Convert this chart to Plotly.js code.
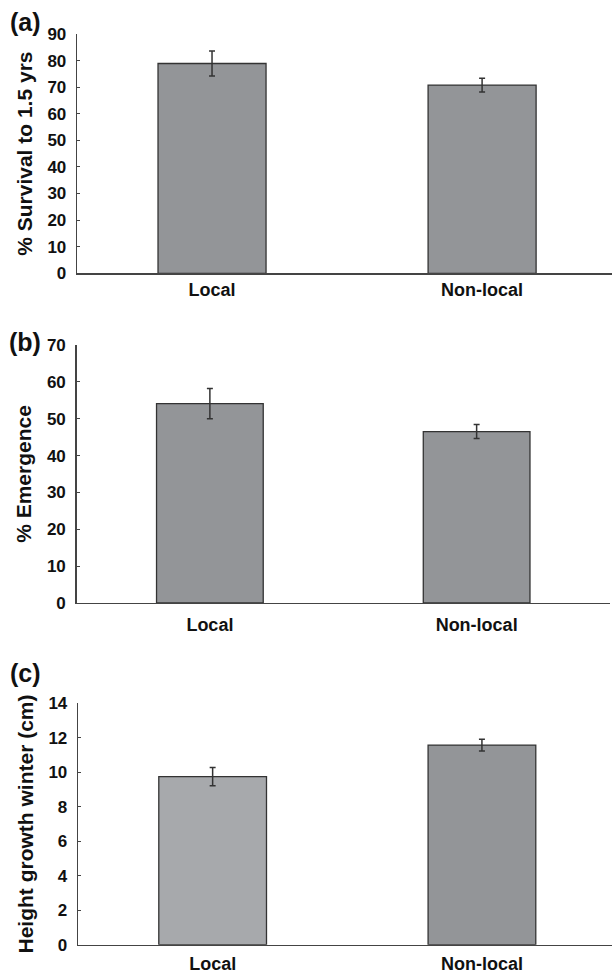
<!DOCTYPE html>
<html>
<head>
<meta charset="utf-8">
<script src="https://cdn.plot.ly/plotly-3.0.1.min.js"></script>
<style>html,body{margin:0;padding:0;background:#fff;}#chart{width:612px;height:974px;}</style>
</head>
<body>
<div id="chart"></div>
<script>
const categories = ['Local', 'Non-local'];

const survival = [78.9, 70.8];
const survivalErr = [4.7, 2.6];

const emergence = [54.1, 46.5];
const emergenceErr = [4.1, 1.9];

const heightGrowth = [9.75, 11.58];
const heightGrowthErr = [0.53, 0.34];

const panelLetters = ['(a)', '(b)', '(c)'];
const yTitles = ['% Survival to 1.5 yrs', '% Emergence', 'Height growth winter (cm)'];

const FONT = 'Liberation Sans, Arial, Helvetica, sans-serif';

function barTrace(y, err, colors, xa, ya) {
  return {
    type: 'bar', x: categories, y: y, xaxis: xa, yaxis: ya,
    width: 0.4,
    marker: {color: colors, line: {color: '#333333', width: 1.3}},
    error_y: {type: 'data', array: err, visible: true, color: '#333333', thickness: 1.5, width: 3},
    hoverinfo: 'skip'
  };
}

const data = [
  barTrace(survival, survivalErr, ['#939598', '#939598'], 'x', 'y'),
  barTrace(emergence, emergenceErr, ['#939598', '#939598'], 'x2', 'y2'),
  barTrace(heightGrowth, heightGrowthErr, ['#a7a9ac', '#939598'], 'x3', 'y3')
];

function xAxis(domain, range, anchor, standoff) {
  return {
    domain: domain, range: range, anchor: anchor,
    showline: true, linecolor: '#444444', linewidth: 1.3,
    ticks: '', showgrid: false, zeroline: false, fixedrange: true,
    ticklabelstandoff: standoff,
    tickfont: {family: FONT, size: 18, color: '#111', weight: 700}
  };
}
function yAxis(domain, range, dtick, anchor, title) {
  return {
    domain: domain, range: range, dtick: dtick, anchor: anchor,
    showline: true, linecolor: '#444444', linewidth: 1.3,
    ticks: 'inside', ticklen: 3, tickwidth: 1, tickcolor: '#444444',
    showgrid: false, zeroline: false, fixedrange: true,
    ticklabelstandoff: 6,
    tickfont: {family: FONT, size: 17, color: '#111', weight: 700},
    title: {text: title, standoff: 9, font: {family: FONT, size: 21, color: '#111', weight: 700}}
  };
}

const H = 974, W = 612;
const layout = {
  width: W, height: H,
  margin: {l: 0, r: 0, t: 0, b: 0, pad: 0},
  paper_bgcolor: '#ffffff', plot_bgcolor: '#ffffff',
  showlegend: false,
  xaxis: xAxis([77 / W, 1], [-0.5, 1.481], 'y', 0),
  yaxis: yAxis([1 - 273.3 / H, 1 - 34 / H], [0, 90], 10, 'x', yTitles[0]),
  xaxis2: xAxis([76.5 / W, 610 / W], [-0.5, 1.5], 'y2', 5),
  yaxis2: yAxis([1 - 603 / H, 1 - 345 / H], [0, 70], 10, 'x2', yTitles[1]),
  xaxis3: xAxis([78 / W, 1], [-0.5, 1.483], 'y3', 2),
  yaxis3: yAxis([1 - 944.7 / H, 1 - 703.3 / H], [0, 14], 2, 'x3', yTitles[2]),
  annotations: [
    {text: panelLetters[0], x: 25 / W, y: 1 - 22 / H},
    {text: panelLetters[1], x: 25 / W, y: 1 - 342 / H},
    {text: panelLetters[2], x: 25 / W, y: 1 - 673 / H}
  ].map(a => Object.assign(a, {
    xref: 'paper', yref: 'paper', xanchor: 'center', yanchor: 'middle', showarrow: false,
    font: {family: FONT, size: 25, color: '#111', weight: 700}
  }))
};

Plotly.newPlot('chart', data, layout, {displayModeBar: false, staticPlot: true});
</script>
</body>
</html>
